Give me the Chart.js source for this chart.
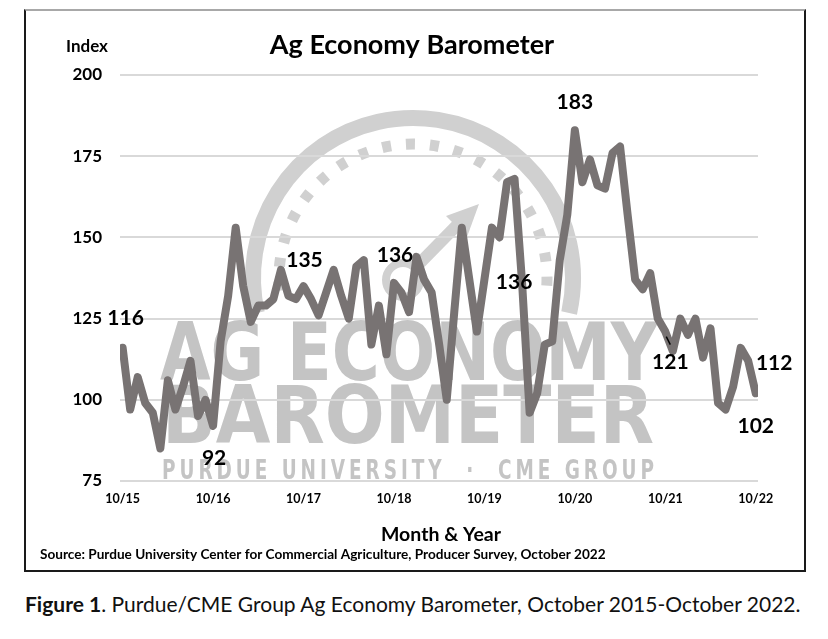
<!DOCTYPE html>
<html>
<head>
<meta charset="utf-8">
<script src="https://cdn.jsdelivr.net/npm/chart.js@4.4.0/dist/chart.umd.min.js"></script>
<style>
  body { margin: 0; background: #fff; width: 828px; height: 639px; position: relative; font-family: Lato, "Open Sans", sans-serif; }
  .box { position: absolute; left: 24px; top: 9px; width: 778px; height: 559px; border: 2px solid #1a1a1a; border-top-color: #a8a8a8; }
  .box canvas { position: absolute; left: 0; top: 0; }
  .caption { position: absolute; left: 25px; top: 591px; font-size: 21px; color: #111; white-space: nowrap; }
</style>
</head>
<body>
<div class="box"><canvas id="barometerChart" width="778" height="559"></canvas></div>
<div class="caption"><b>Figure 1</b>. Purdue/CME Group Ag Economy Barometer, October 2015-October 2022.</div>
<script>
// monthly index, Oct 2015 .. Oct 2022
const barometer = [
  116, 97, 107,                                             // 2015 Oct-Dec
  99, 96, 85, 106, 97, 104, 112, 95, 100, 92, 118, 132,     // 2016
  153, 135, 124, 129, 129, 131, 140, 132, 131, 135, 131, 126, // 2017
  133, 140, 132, 125, 141, 143, 117, 129, 114, 136, 133, 127, // 2018
  144, 137, 133, 117, 100, 127, 153, 137, 121, 137, 153, 150, // 2019
  167, 168, 136, 96, 102, 117, 118, 143, 157, 183, 167, 174, // 2020
  166, 165, 176, 178, 157, 137, 134, 139, 125, 121, 115, 125, // 2021
  120, 125, 113, 122, 99, 97, 104, 116, 112, 102            // 2022 Jan-Oct
];
const tickMonths = [0, 12, 24, 36, 48, 60, 72, 84];
const tickLabels = ['10/15', '10/16', '10/17', '10/18', '10/19', '10/20', '10/21', '10/22'];
const yTicks = [75, 100, 125, 150, 175, 200];
const calloutMonths = [0, 12, 24, 36, 53, 60, 72, 83, 84];

// label offsets from the point, px
const calloutOffsets = {
  0: [3, -30], 12: [1, 32], 24: [1, -26], 36: [1, -28], 53: [-8, -1],
  60: [0, -28], 72: [5, 31], 83: [26, 2], 84: [0, 33]
};

const FONT = 'Lato, "Open Sans", sans-serif';

const decor = {
  id: 'decor',
  beforeDraw(chart) {
    const ctx = chart.ctx;
    ctx.save();
    // watermark gauge
    const cx = 387, cy = 267;
    ctx.strokeStyle = '#d0d0d0';
    ctx.lineWidth = 16;
    ctx.beginPath();
    ctx.arc(cx, cy, 160, 0.93 * Math.PI, 2.07 * Math.PI);
    ctx.stroke();
    ctx.lineWidth = 11;
    ctx.setLineDash([9, 15]);
    ctx.beginPath();
    ctx.arc(cx, cy, 134, 0.97 * Math.PI, 2.03 * Math.PI);
    ctx.stroke();
    ctx.setLineDash([]);
    // hub + arrow
    ctx.lineWidth = 8;
    ctx.beginPath();
    ctx.arc(377, 269, 17, 0, 2 * Math.PI);
    ctx.stroke();
    ctx.lineWidth = 12;
    ctx.beginPath();
    ctx.moveTo(390, 256);
    ctx.lineTo(440, 205);
    ctx.stroke();
    ctx.fillStyle = '#d0d0d0';
    ctx.beginPath();
    ctx.moveTo(453, 193);
    ctx.lineTo(420, 205);
    ctx.lineTo(441, 226);
    ctx.closePath();
    ctx.fill();
    // watermark words
    ctx.fillStyle = '#c4c4c4';
    ctx.textAlign = 'left';
    ctx.textBaseline = 'alphabetic';
    ctx.font = 'bold 80px "Liberation Sans Narrow", "DejaVu Sans Condensed", sans-serif';
    ctx.fillText('AG ECONOMY', 134, 369, 498);
    ctx.fillText('BAROMETER', 136, 432, 492);
    ctx.font = 'bold 26px "Liberation Sans Narrow", "DejaVu Sans Condensed", sans-serif';
    ctx.letterSpacing = '5px';
    ctx.fillText('PURDUE UNIVERSITY  \u00B7  CME GROUP', 136, 468, 496);
    ctx.letterSpacing = '0px';
    ctx.restore();
  },
  afterDraw(chart) {
    const ctx = chart.ctx;
    ctx.save();
    ctx.fillStyle = '#000';
    ctx.textAlign = 'center';
    ctx.textBaseline = 'middle';
    ctx.font = 'bold 27px ' + FONT;
    ctx.fillText('Ag Economy Barometer', 386, 34);
    ctx.font = 'bold 17px ' + FONT;
    ctx.fillText('Index', 61, 36);
    ctx.font = 'bold 19.5px ' + FONT;
    ctx.fillText('Month & Year', 415, 524);
    ctx.textAlign = 'left';
    ctx.font = 'bold 13.6px ' + FONT;
    ctx.fillText('Source: Purdue University Center for Commercial Agriculture, Producer Survey, October 2022', 14, 544);

    // callout values
    const meta = chart.getDatasetMeta(0);
    ctx.textAlign = 'center';
    ctx.font = 'bold 21px ' + FONT;
    calloutMonths.forEach(i => {
      const pt = meta.data[i];
      const off = calloutOffsets[i];
      ctx.fillText(String(barometer[i]), pt.x + off[0], pt.y + off[1]);
    });
    // small leader line on the 10/21 label
    const p72 = meta.data[72];
    ctx.strokeStyle = '#000';
    ctx.lineWidth = 1.5;
    ctx.beginPath();
    ctx.moveTo(p72.x + 1, p72.y + 5);
    ctx.lineTo(p72.x + 5, p72.y + 13);
    ctx.stroke();
    ctx.restore();
  }
};

const ctx = document.getElementById('barometerChart').getContext('2d');
new Chart(ctx, {
  type: 'line',
  data: {
    datasets: [{
      label: 'Ag Economy Barometer',
      data: barometer.map((v, i) => ({ x: i, y: v })),
      borderColor: '#787373',
      borderWidth: 8,
      borderJoinStyle: 'round',
      borderCapStyle: 'round',
      pointRadius: 0,
      tension: 0
    }]
  },
  options: {
    responsive: false,
    animation: false,
    layout: { padding: { left: 0, right: 46, top: 64, bottom: 0 } },
    plugins: { legend: { display: false }, tooltip: { enabled: false }, title: { display: false } },
    scales: {
      x: {
        type: 'linear',
        min: -0.35,
        max: 84.3,
        afterFit: s => { s.height = 89; },
        afterBuildTicks: s => { s.ticks = tickMonths.map(v => ({ value: v })); },
        grid: { display: false, drawTicks: false },
        border: { display: false },
        ticks: {
          autoSkip: false,
          maxRotation: 0,
          padding: 10,
          color: '#000',
          font: { family: FONT, size: 12.5, weight: 'bold' },
          callback: v => tickLabels[tickMonths.indexOf(v)]
        }
      },
      y: {
        min: 75,
        max: 200,
        afterFit: s => { s.width = 94; },
        afterBuildTicks: s => { s.ticks = yTicks.map(v => ({ value: v })); },
        grid: { color: '#d9d9d9', lineWidth: 2, drawTicks: false },
        border: { display: false },
        ticks: {
          padding: 18,
          color: '#000',
          font: { family: FONT, size: 17, weight: 'bold' }
        }
      }
    }
  },
  plugins: [decor]
});
</script>
</body>
</html>
